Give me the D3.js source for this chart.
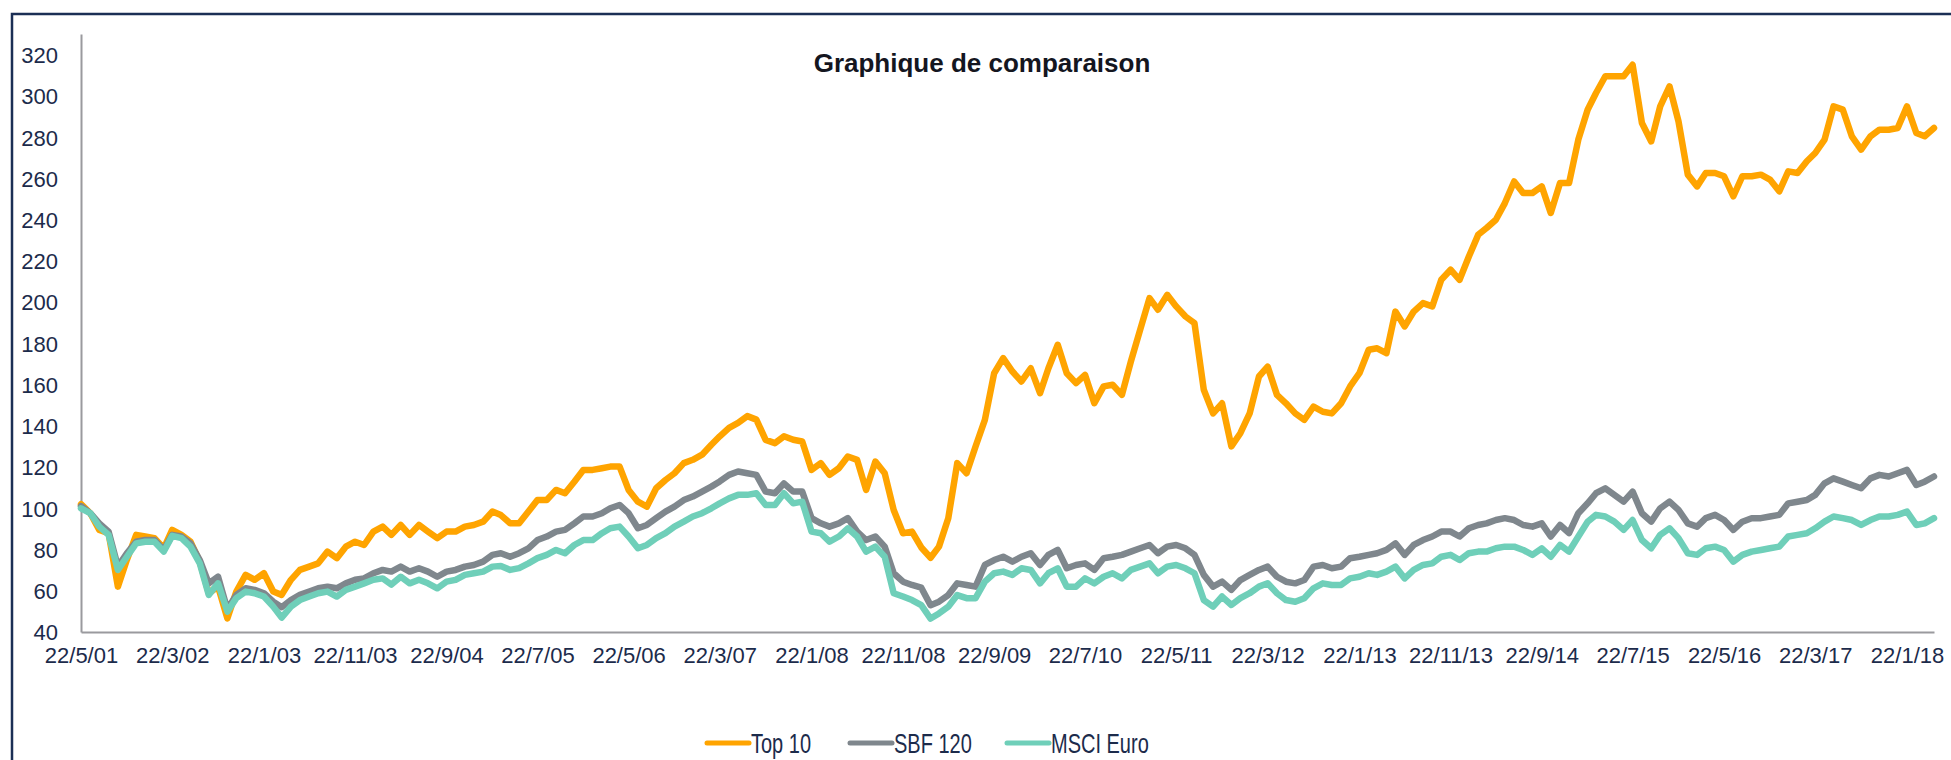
<!DOCTYPE html>
<html>
<head>
<meta charset="utf-8">
<script src="https://cdn.jsdelivr.net/npm/d3@7"></script>
<style>
  body { margin: 0; background: #fff; }
  svg { display: block; font-family: "Liberation Sans", Arial, sans-serif; }
</style>
</head>
<body>
<script>
'use strict';

// une valeur par mois, à partir du 22/5/01
const dateDebut = '2001-05-22'

const top10 = [
  102, 97.6, 89.5, 87.9, 62, 75, 87.1, 86.3, 85.5, 80.6, 89.5, 87.1, 83.8, 74.1, 58.8, 62, 46.6, 59.6, 67.7, 65.3,
  68.5, 59.6, 58, 65.3, 70.1, 71.7, 73.3, 79, 75.8, 81.4, 83.8, 82.2, 88.7, 91.1, 87.1, 91.9, 87.1, 91.9, 88.7, 85.5,
  88.7, 88.7, 91.1, 91.9, 93.5, 98.4, 96.7, 92.7, 92.7, 98.4, 104, 104, 108.9, 107.3, 112.9, 118.6, 118.6, 119.4, 120.2, 120.2,
  108.9, 103.2, 100.8, 109.7, 113.7, 117, 121.9, 123.5, 126, 130.8, 134.9, 139, 141.4, 144.7, 143, 133.2, 131.6, 134.9, 133.2, 132.4,
  118.6, 121.9, 116.2, 119.4, 125.1, 123.5, 108.9, 122.7, 117, 99.2, 87.9, 88.7, 81, 76, 81.4, 95.2, 121.9, 117, 130, 142.9,
  165.5, 172.8, 166.3, 161.5, 167.9, 155.8, 167.9, 179.3, 165.5, 160.7, 164.7, 151, 159.1, 159.9, 155, 171.2, 186.6, 201.9, 196.3, 203.5,
  197.9, 193, 189.8, 157.5, 146, 150.9, 130, 136.4, 146, 163.9, 168.7, 155, 150.9, 146, 142.9, 149.3, 146.8, 146, 150.9, 159.1,
  165.5, 176.9, 177.6, 175.2, 195.4, 188.2, 195.4, 199.5, 197.9, 210.8, 215.7, 210.8, 222.1, 232.6, 235.9, 239.9, 248, 258.5, 252.9, 252.9,
  256.1, 243.2, 257.7, 257.7, 278.8, 293.3, 301.4, 309.5, 309.5, 309.5, 315.1, 286.8, 277.9, 294.9, 304.6, 287.6, 261.8, 256.1, 262.6, 262.6,
  261, 251.3, 261, 261, 261.8, 259.4, 253.7, 263.4, 262.6, 268.3, 272.3, 278.8, 294.9, 293.3, 280.4, 273.9, 280.4, 283.6, 283.6, 284.4,
  294.9, 282, 280.4, 284.4
]

const sbf120 = [
  101, 97.6, 92.7, 88.7, 71.7, 78.2, 83.8, 84.6, 84.6, 79.8, 87.1, 86.3, 83, 74.9, 63.6, 66.8, 51, 58, 61.2, 60.4,
  58.8, 54.7, 52, 55.5, 58, 59.6, 61.2, 62, 61.2, 63.6, 65.3, 66, 68.5, 70.1, 69.3, 71.7, 69.3, 70.9, 69.3, 66.8,
  69.3, 70.1, 71.7, 72.5, 74.1, 77.4, 78.2, 76.5, 78.2, 80.6, 84.6, 86.3, 88.7, 89.5, 92.7, 96, 96, 97.6, 100, 101.6,
  97.6, 90.3, 91.9, 95.2, 98.4, 100.8, 104, 105.7, 108.1, 110.5, 113, 116.2, 117.8, 117, 116.2, 108.1, 107.3, 112.1, 108.1, 108.1,
  95.2, 92.7, 91.1, 92.7, 95.2, 88.7, 84.6, 86.3, 81.4, 68.5, 64.4, 62.8, 61.5, 53, 54.7, 57.9, 63.6, 62.8, 62, 72.5,
  74.9, 76.5, 74.1, 76.5, 78.2, 72.5, 77.4, 79.8, 70.9, 72.5, 73.3, 70.1, 75.8, 76.5, 77.4, 79, 80.6, 82.2, 78.2, 81.4,
  82.2, 80.6, 77.4, 67.7, 62, 64.4, 60.4, 65.2, 67.7, 70.1, 71.7, 66.8, 64.4, 63.6, 65.2, 71.7, 72.5, 70.9, 71.7, 75.8,
  76.5, 77.4, 78.2, 79.8, 83, 77.4, 82.2, 84.6, 86.3, 88.7, 88.7, 86.3, 90.3, 91.9, 92.7, 94.3, 95.2, 94.3, 91.9, 91.1,
  92.7, 86.3, 91.9, 88, 97.6, 102.4, 107.3, 109.7, 106.5, 103.2, 108.1, 97.6, 93.5, 100, 103.2, 99.2, 92.7, 91.1, 95.2, 96.8,
  94.3, 89.5, 93.5, 95.2, 95.2, 96, 96.8, 102.4, 103.2, 104, 106.5, 112.1, 114.5, 112.9, 111.3, 109.7, 114.5, 116.2, 115.4, 117,
  118.6, 111.3, 112.9, 115.4
]

const msciEuro = [
  100, 97.6, 91.1, 87.1, 70.1, 76.5, 83, 83.8, 83.8, 79, 86.6, 85.5, 81.4, 73.3, 58, 63.6, 49.9, 56.4, 59.6, 58.8,
  57.2, 52.3, 47, 52.3, 55.5, 57.2, 58.8, 59.6, 57.2, 60.4, 62, 63.6, 65.3, 66, 63, 66.8, 63.6, 65.3, 63.6, 61.2,
  64.4, 65.3, 67.7, 68.5, 69.3, 71.7, 72, 70.1, 71, 73.3, 75.8, 77.4, 79.8, 78.2, 82.2, 84.6, 84.6, 87.9, 90.3, 91.1,
  86.3, 80.6, 82.2, 85.5, 87.9, 91.1, 93.5, 96, 97.6, 100, 102.4, 104.8, 106.5, 106.5, 107.3, 101.6, 101.6, 107.3, 102.4, 103.2,
  88.7, 87.9, 83.8, 86.3, 90.3, 86.3, 79, 81.4, 76.5, 58.8, 57.2, 55.5, 53, 46.5, 49, 52.3, 57.9, 56.4, 56.4, 64.4,
  68.5, 69.3, 67.7, 70.9, 70.1, 63.6, 68.5, 70.9, 62, 62, 66, 63.6, 66.8, 68.5, 66, 70.1, 71.7, 73.3, 68.5, 71.7,
  72.5, 70.9, 68.5, 55.5, 52.3, 57.2, 53.1, 56.4, 58.8, 62, 63.6, 58.8, 55.5, 54.7, 56.4, 61.2, 63.6, 62.8, 62.8, 66,
  66.8, 68.5, 67.7, 69.3, 71.7, 66, 70.1, 72.5, 73.3, 76.5, 77.4, 74.9, 78.2, 79, 79, 80.6, 81.4, 81.4, 79.8, 77.4,
  80.6, 76.5, 82.2, 79, 86.3, 93.5, 96.8, 96, 93.5, 89.5, 94.3, 84.6, 80.6, 87.1, 90.3, 85.5, 78.2, 77.4, 80.6, 81.4,
  79.8, 74.1, 77.4, 79, 79.8, 80.6, 81.4, 86.3, 87.1, 87.9, 90.3, 93.5, 96, 95.2, 94.3, 91.9, 94.3, 96, 96, 96.8,
  98.4, 91.9, 92.7, 95.2
]

const yTicks = [40, 60, 80, 100, 120, 140, 160, 180, 200, 220, 240, 260, 280, 300, 320]
const pasMoisTicks = 10
const nbTicksX = 21

const series = [
  {nom: 'Top 10', valeurs: top10, couleur: '#ffa400'},
  {nom: 'SBF 120', valeurs: sbf120, couleur: '#7f878d'},
  {nom: 'MSCI Euro', valeurs: msciEuro, couleur: '#6fcfb9'}
]

const largura = 1951
const altura = 760
const corTexto = '#1c2b4b'

const svg = d3.select('body').append('svg')
    .attr('width', largura)
    .attr('height', altura)

// cadre
svg.append('rect')
    .attr('x', 12).attr('y', 14)
    .attr('width', largura).attr('height', altura)
    .attr('fill', 'none')
    .attr('stroke', '#1b2f55')
    .attr('stroke-width', 2.5)

const inicio = d3.timeParse('%Y-%m-%d')(dateDebut)
const datas = top10.map((_, i) => d3.timeMonth.offset(inicio, i))

const escalaX = d3.scaleTime()
    .domain([inicio, datas[datas.length - 1]])
    .range([81, 1934])
const escalaY = d3.scaleLinear()
    .domain([40, 330])
    .range([632, 34])

const ticksX = d3.range(nbTicksX).map(k => d3.timeMonth.offset(inicio, k * pasMoisTicks))

const eixoX = d3.axisBottom(escalaX)
    .tickValues(ticksX)
    .tickFormat(d3.timeFormat('%-d/%-m/%y'))
    .tickSize(0)
    .tickPadding(15)
const eixoY = d3.axisLeft(escalaY)
    .tickValues(yTicks)
    .tickSize(0)
    .tickPadding(23)

const gX = svg.append('g')
    .attr('transform', 'translate(0, 632)')
    .call(eixoX)
const gY = svg.append('g')
    .attr('transform', 'translate(81, 0)')
    .call(eixoY)

for (let g of [gX, gY]) {
    g.select('.domain').attr('stroke', '#9a9a9e').attr('stroke-width', 2)
    g.selectAll('text')
        .attr('fill', corTexto)
        .style('font-size', '22px')
        .style('font-family', '"Liberation Sans", Arial, sans-serif')
}
gY.selectAll('text').attr('dy', '0.36em')

// lignes
const ligne = d3.line()
    .x((d, i) => escalaX(datas[i]))
    .y(d => escalaY(d))

for (let s of series) {
    svg.append('path')
        .datum(s.valeurs)
        .attr('d', ligne)
        .attr('fill', 'none')
        .attr('stroke', s.couleur)
        .attr('stroke-width', 6.5)
        .attr('stroke-linejoin', 'round')
        .attr('stroke-linecap', 'round')
}

// titre
svg.append('text')
    .attr('x', 982).attr('y', 72)
    .attr('text-anchor', 'middle')
    .attr('fill', '#14161f')
    .style('font-size', '26px')
    .style('font-weight', 'bold')
    .text('Graphique de comparaison')

// légende (texte un peu étiré en hauteur comme dans l'original)
const posLegende = [707, 850, 1007]
const legende = svg.append('g')
series.forEach((s, i) => {
    let x0 = posLegende[i]
    legende.append('line')
        .attr('x1', x0).attr('x2', x0 + 42)
        .attr('y1', 743).attr('y2', 743)
        .attr('stroke', s.couleur)
        .attr('stroke-width', 5)
        .attr('stroke-linecap', 'round')
    legende.append('text')
        .attr('transform', `translate(${x0 + 44}, 753) scale(1, 1.35)`)
        .attr('fill', corTexto)
        .style('font-size', '20px')
        .text(s.nom)
})
</script>
</body>
</html>
